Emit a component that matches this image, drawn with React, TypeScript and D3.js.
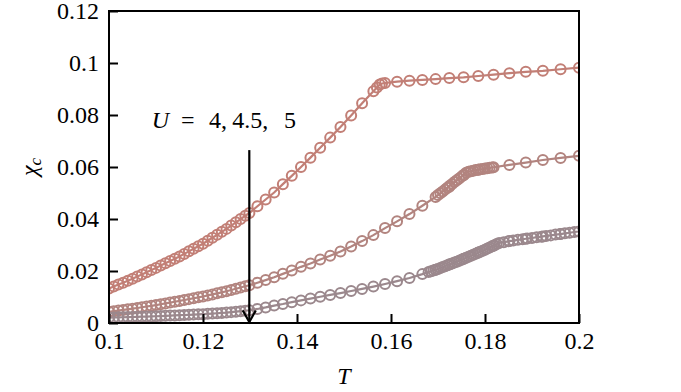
import React, { useEffect, useRef } from 'react';
import * as d3 from 'd3';

// low-temperature scan, shared by all three U values
const tLow = [
  0.1, 0.101, 0.102, 0.103, 0.104, 0.105, 0.106, 0.107, 0.108, 0.109,
  0.11, 0.111, 0.112, 0.113, 0.114, 0.115, 0.116, 0.117, 0.118, 0.119,
  0.12, 0.121, 0.122, 0.123, 0.124, 0.125, 0.126, 0.127, 0.128, 0.129,
];

// beta = 7.7 ... 5.0 in steps of 0.1
const tBeta = [
  0.12987, 0.13158, 0.13333, 0.13514, 0.13699, 0.13889, 0.14085, 0.14286, 0.14493, 0.14706,
  0.14925, 0.15152, 0.15385, 0.15625, 0.15873, 0.16129, 0.16393, 0.16667, 0.16949, 0.17241,
  0.17544, 0.17857, 0.18182, 0.18519, 0.18868, 0.19231, 0.19608, 0.2,
];

// U = 4
const chiTopLow = [
  0.0133, 0.01404, 0.01478, 0.01552, 0.01626, 0.017, 0.01784, 0.01868, 0.01952, 0.02036,
  0.0212, 0.02208, 0.02296, 0.02384, 0.02472, 0.0256, 0.02658, 0.02756, 0.02854, 0.02952,
  0.0305, 0.03164, 0.03278, 0.03392, 0.03506, 0.0362, 0.03746, 0.03872, 0.03998, 0.04124,
];
const chiTopBeta = [
  0.0423, 0.0449, 0.0475, 0.0502, 0.0534, 0.0566, 0.06, 0.0636, 0.0674, 0.0713,
  0.0754, 0.0798, 0.0845, 0.0891, 0.0923, 0.0928, 0.0932, 0.0935, 0.0938, 0.0942,
  0.0945, 0.095, 0.0955, 0.0961, 0.0966, 0.097, 0.0976, 0.0982,
];
const tTopKink = [0.157, 0.1576, 0.1581];
const chiTopKink = [0.0906, 0.0917, 0.0921];

// U = 4.5
const chiMidLow = [
  0.0043, 0.00454, 0.00478, 0.00502, 0.00526, 0.0055, 0.00578, 0.00606, 0.00634, 0.00662,
  0.0069, 0.00722, 0.00754, 0.00786, 0.00818, 0.0085, 0.00884, 0.00918, 0.00952, 0.00986,
  0.0102, 0.0106, 0.011, 0.0114, 0.0118, 0.0122, 0.01268, 0.01316, 0.01364, 0.01412,
];
const chiMidBeta = [
  0.0145, 0.0155, 0.0165, 0.0176, 0.0189, 0.0202, 0.0216, 0.0229, 0.0244, 0.0259,
  0.0275, 0.0294, 0.0315, 0.0338, 0.0365, 0.0391, 0.0419, 0.0451, 0.0485, 0.0524,
  0.0568, 0.0589, 0.0599, 0.0608, 0.0617, 0.0627, 0.0635, 0.0643,
];
const tMidKink = [
  0.17, 0.1705, 0.171, 0.1715, 0.172, 0.1725, 0.173, 0.1735, 0.174, 0.1745,
  0.175, 0.1755, 0.176, 0.1765, 0.177, 0.1775, 0.178, 0.1785, 0.179, 0.1795,
  0.18, 0.1805, 0.181, 0.1815,
];
const chiMidKink = [
  0.0492, 0.0499, 0.0506, 0.0513, 0.052, 0.0528, 0.0535, 0.0542, 0.0549, 0.0556,
  0.0563, 0.057, 0.0578, 0.0582, 0.0584, 0.0586, 0.0588, 0.0589, 0.0591, 0.0592,
  0.0594, 0.0595, 0.0597, 0.0598,
];

// U = 5
const chiBotLow = [
  0.0021, 0.00214, 0.00218, 0.00222, 0.00226, 0.0023, 0.00236, 0.00242, 0.00248, 0.00254,
  0.0026, 0.00268, 0.00276, 0.00284, 0.00292, 0.003, 0.00308, 0.00316, 0.00324, 0.00332,
  0.0034, 0.00352, 0.00364, 0.00376, 0.00388, 0.004, 0.00418, 0.00436, 0.00454, 0.00472,
];
const chiBotBeta = [
  0.0049, 0.0054, 0.006, 0.0067, 0.0073, 0.008, 0.0087, 0.0094, 0.0101, 0.0108,
  0.0115, 0.0123, 0.0131, 0.014, 0.015, 0.0161, 0.0173, 0.0188, 0.0205, 0.0225,
  0.0247, 0.0271, 0.0297, 0.0315, 0.0324, 0.0333, 0.0342, 0.0352,
];
const tBotKink = [
  0.168, 0.1685, 0.169, 0.1695, 0.17, 0.1705, 0.171, 0.1715, 0.172, 0.1725,
  0.173, 0.1735, 0.174, 0.1745, 0.175, 0.1755, 0.176, 0.1765, 0.177, 0.1775,
  0.178, 0.1785, 0.179, 0.1795, 0.18, 0.1805, 0.181, 0.1815, 0.182, 0.1825,
  0.183, 0.184, 0.185, 0.186, 0.187, 0.188, 0.189, 0.19, 0.191, 0.192,
  0.193, 0.194, 0.195, 0.196, 0.197, 0.198, 0.199,
];
const chiBotKink = [
  0.0196, 0.0199, 0.0202, 0.0205, 0.0208, 0.02115, 0.0215, 0.02185, 0.0222, 0.02255,
  0.0229, 0.02325, 0.0236, 0.02395, 0.0243, 0.02469, 0.02508, 0.02547, 0.02586, 0.02625,
  0.02664, 0.02703, 0.02742, 0.02781, 0.0282, 0.02863, 0.02906, 0.02949, 0.02992, 0.03035,
  0.0308, 0.0311, 0.0314, 0.0317, 0.032, 0.0322, 0.0325, 0.0327, 0.033, 0.0332,
  0.0335, 0.0337, 0.034, 0.0342, 0.0345, 0.0347, 0.035,
];

const seriesColors = ['#c27f76', '#b2847f', '#9b888d'];

const xTicks = [0.1, 0.12, 0.14, 0.16, 0.18, 0.2];
const xTickLabels = ['0.1', '0.12', '0.14', '0.16', '0.18', '0.2'];
const yTicks = [0, 0.02, 0.04, 0.06, 0.08, 0.1, 0.12];
const yTickLabels = ['0', '0.02', '0.04', '0.06', '0.08', '0.1', '0.12'];

// annotation pieces and their left edges (in T units)
const annPieces = ['=', '4,', '4.5,', '5'];
const annPieceT = [0.11532, 0.12128, 0.1262, 0.13724];

const FONT = "'Liberation Serif', 'DejaVu Serif', serif";

const zip = (ts: number[], vs: number[]) => ts.map((t, i) => ({ t, v: vs[i] }));

const App = () => {
  const chartRef = useRef<HTMLDivElement>(null);

  useEffect(() => {
    const W = 681;
    const H = 392;
    const left = 109, right = 579, top = 11, bottom = 323;

    d3.select(chartRef.current).selectAll('*').remove();

    const svg = d3
      .select(chartRef.current)
      .append('svg')
      .attr('width', W)
      .attr('height', H)
      .style('display', 'block')
      .style('background', '#fff');

    const x = d3.scaleLinear().domain([0.1, 0.2]).range([left, right]);
    const y = d3.scaleLinear().domain([0, 0.12]).range([bottom, top]);

    svg
      .append('defs')
      .append('clipPath')
      .attr('id', 'plot-clip')
      .append('rect')
      .attr('x', left)
      .attr('y', top)
      .attr('width', right - left)
      .attr('height', bottom - top);

    const series = [
      [...zip(tLow, chiTopLow), ...zip(tBeta, chiTopBeta), ...zip(tTopKink, chiTopKink)],
      [...zip(tLow, chiMidLow), ...zip(tBeta, chiMidBeta), ...zip(tMidKink, chiMidKink)],
      [...zip(tLow, chiBotLow), ...zip(tBeta, chiBotBeta), ...zip(tBotKink, chiBotKink)],
    ].map((pts) => d3.sort(pts, (d) => d.t));

    const line = d3
      .line<{ t: number; v: number }>()
      .x((d) => x(d.t))
      .y((d) => y(d.v));

    const plot = svg.append('g').attr('clip-path', 'url(#plot-clip)');

    series.forEach((pts, i) => {
      const g = plot.append('g');
      g.append('path')
        .datum(pts)
        .attr('d', line)
        .attr('fill', 'none')
        .attr('stroke', seriesColors[i])
        .attr('stroke-width', 2.2);
      g.selectAll('circle')
        .data(pts)
        .enter()
        .append('circle')
        .attr('cx', (d) => x(d.t))
        .attr('cy', (d) => y(d.v))
        .attr('r', 5)
        .attr('fill', 'none')
        .attr('stroke', seriesColors[i])
        .attr('stroke-width', 2);
    });

    // axes with inward ticks
    const xAxis = d3
      .axisBottom(x)
      .tickValues(xTicks)
      .tickSize(-9)
      .tickPadding(9)
      .tickFormat((_, i) => xTickLabels[i]);
    const yAxis = d3
      .axisLeft(y)
      .tickValues(yTicks)
      .tickSize(-9)
      .tickPadding(10)
      .tickFormat((_, i) => yTickLabels[i]);

    const gx = svg.append('g').attr('transform', `translate(0, ${bottom})`).call(xAxis);
    const gy = svg.append('g').attr('transform', `translate(${left}, 0)`).call(yAxis);
    [gx, gy].forEach((g) => {
      g.attr('font-family', FONT).attr('font-size', 24);
      g.select('.domain').remove();
      g.selectAll('line').attr('stroke', '#000').attr('stroke-width', 2);
      g.selectAll('text').style('font-family', FONT).style('font-size', '24px').attr('fill', '#000');
    });

    svg
      .append('rect')
      .attr('x', left)
      .attr('y', top)
      .attr('width', right - left)
      .attr('height', bottom - top)
      .attr('fill', 'none')
      .attr('stroke', '#000')
      .attr('stroke-width', 2);

    // axis labels
    svg
      .append('text')
      .attr('x', x(0.15))
      .attr('y', 384)
      .attr('text-anchor', 'middle')
      .style('font-family', FONT)
      .style('font-size', '24px')
      .style('font-style', 'italic')
      .text('T');

    const yl = svg
      .append('text')
      .attr('transform', `translate(37, ${y(0.06)}) rotate(-90)`)
      .attr('text-anchor', 'middle')
      .style('font-family', FONT)
      .style('font-size', '24px')
      .style('font-style', 'italic');
    yl.append('tspan').text('χ');
    yl.append('tspan').style('font-size', '17px').attr('dy', 4).text('c');

    // annotation: U = 4, 4.5, 5
    const annY = y(0.075);
    svg
      .append('text')
      .attr('x', x(0.1091))
      .attr('y', annY)
      .style('font-family', FONT)
      .style('font-size', '24px')
      .style('font-style', 'italic')
      .text('U');
    svg
      .selectAll('text.ann')
      .data(annPieces)
      .enter()
      .append('text')
      .attr('class', 'ann')
      .attr('x', (_, i) => x(annPieceT[i]))
      .attr('y', annY)
      .style('font-family', FONT)
      .style('font-size', '24px')
      .text((d) => d);

    const ax = x(0.13) - 0.7;
    const yFrom = y(0.0665);
    const yTo = y(0.0004);
    svg
      .append('line')
      .attr('x1', ax)
      .attr('x2', ax)
      .attr('y1', yFrom)
      .attr('y2', yTo)
      .attr('stroke', '#000')
      .attr('stroke-width', 2.2);
    svg
      .append('path')
      .attr('d', `M${ax - 6.5},${yTo - 11.5} L${ax},${yTo} L${ax + 6.5},${yTo - 11.5}`)
      .attr('fill', 'none')
      .attr('stroke', '#000')
      .attr('stroke-width', 2.2);
  }, []);

  return <div ref={chartRef} style={{ position: 'absolute', left: 0, top: 0 }}></div>;
};

export default App;
